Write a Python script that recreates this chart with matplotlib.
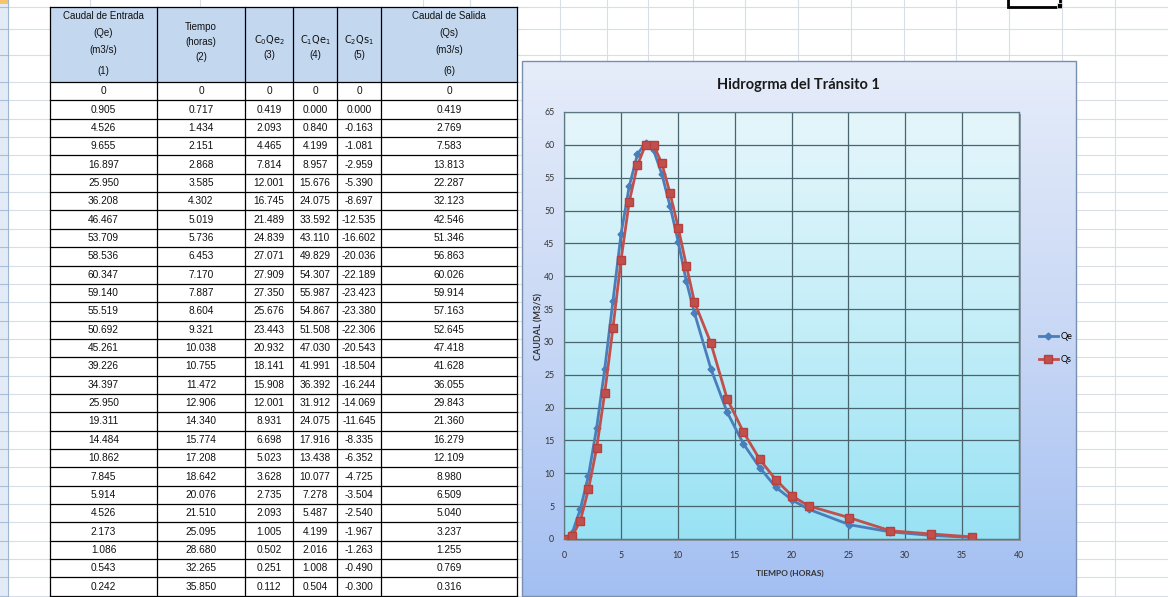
import numpy as np
import matplotlib.pyplot as plt
from matplotlib.colors import LinearSegmentedColormap
from matplotlib.patches import Rectangle

# Tabla del tránsito, columnas (1) a (6)
caudal_entrada = [0, 0.905, 4.526, 9.655, 16.897, 25.950, 36.208, 46.467, 53.709, 58.536,
                  60.347, 59.140, 55.519, 50.692, 45.261, 39.226, 34.397, 25.950, 19.311,
                  14.484, 10.862, 7.845, 5.914, 4.526, 2.173, 1.086, 0.543, 0.242]
tiempo = [0, 0.717, 1.434, 2.151, 2.868, 3.585, 4.302, 5.019, 5.736, 6.453,
          7.170, 7.887, 8.604, 9.321, 10.038, 10.755, 11.472, 12.906, 14.340,
          15.774, 17.208, 18.642, 20.076, 21.510, 25.095, 28.680, 32.265, 35.850]
c0_qe2 = [0, 0.419, 2.093, 4.465, 7.814, 12.001, 16.745, 21.489, 24.839, 27.071,
          27.909, 27.350, 25.676, 23.443, 20.932, 18.141, 15.908, 12.001, 8.931,
          6.698, 5.023, 3.628, 2.735, 2.093, 1.005, 0.502, 0.251, 0.112]
c1_qe1 = [0, 0.000, 0.840, 4.199, 8.957, 15.676, 24.075, 33.592, 43.110, 49.829,
          54.307, 55.987, 54.867, 51.508, 47.030, 41.991, 36.392, 31.912, 24.075,
          17.916, 13.438, 10.077, 7.278, 5.487, 4.199, 2.016, 1.008, 0.504]
c2_qs1 = [0, 0.000, -0.163, -1.081, -2.959, -5.390, -8.697, -12.535, -16.602, -20.036,
          -22.189, -23.423, -23.380, -22.306, -20.543, -18.504, -16.244, -14.069, -11.645,
          -8.335, -6.352, -4.725, -3.504, -2.540, -1.967, -1.263, -0.490, -0.300]
caudal_salida = [0, 0.419, 2.769, 7.583, 13.813, 22.287, 32.123, 42.546, 51.346, 56.863,
                 60.026, 59.914, 57.163, 52.645, 47.418, 41.628, 36.055, 29.843, 21.360,
                 16.279, 12.109, 8.980, 6.509, 5.040, 3.237, 1.255, 0.769, 0.316]

header_lines = [
    ["Caudal de Entrada", "(Qe)", "(m3/s)", "(1)"],
    ["Tiempo", "(horas)", "(2)"],
    [r"$\mathrm{C_0Qe_2}$", "(3)"],
    [r"$\mathrm{C_1Qe_1}$", "(4)"],
    [r"$\mathrm{C_2Qs_1}$", "(5)"],
    ["Caudal de Salida", "(Qs)", "(m3/s)", "(6)"],
]
header_y = [[16, 33, 50, 71], [27, 42, 57], [40, 55], [40, 55], [40, 55], [16, 33, 50, 71]]

NARROW = ['Liberation Sans Narrow', 'Liberation Sans', 'DejaVu Sans']
CHART = ['Lato', 'DejaVu Sans']
plt.rcParams['font.family'] = NARROW
plt.rcParams['mathtext.fontset'] = 'custom'
plt.rcParams['mathtext.rm'] = 'Liberation Sans Narrow'
plt.rcParams['mathtext.it'] = 'Liberation Sans Narrow'

W, H = 1168, 597
fig = plt.figure(figsize=(W / 100, H / 100), dpi=100)
fig.patch.set_facecolor('white')
bg = fig.add_axes([0, 0, 1, 1])
bg.set_xlim(0, W)
bg.set_ylim(H, 0)
bg.axis('off')

# cuadrícula de la hoja
grid_c = '#d8dde6'
row_top, row_h = 82, 18.35
row_edges = [row_top + row_h * k for k in range(29)]
sheet_rows = [7, 28.6, 55.3] + row_edges
for y in sheet_rows:
    bg.plot([8, 50], [y, y], color=grid_c, lw=0.8, zorder=1)
    bg.plot([517, 522], [y, y], color=grid_c, lw=0.8, zorder=1)
    bg.plot([1076, W], [y, y], color=grid_c, lw=0.8, zorder=1)
for y in [7, 28.6, 55.3]:
    bg.plot([517, W], [y, y], color=grid_c, lw=0.8, zorder=1)
for x in [560, 607, 648, 693, 745, 798, 851, 904, 956, 1009, 1062]:
    bg.plot([x, x], [0, 61], color=grid_c, lw=0.8, zorder=1)
bg.plot([1115, 1115], [0, H], color=grid_c, lw=0.8, zorder=1)
for x in [90, 200, 423, 470]:
    bg.plot([x, x], [0, 7], color=grid_c, lw=0.8, zorder=1)

# encabezado de filas (borde izquierdo)
bg.add_patch(Rectangle((0, 0), 8, H, fc='#e3ebf6', ec='none', zorder=2))
bg.add_patch(Rectangle((0, 0), 8, 4, fc='#f7c46c', ec='none', zorder=3))
for y in sheet_rows:
    bg.plot([0, 8], [y, y], color='#a9bfd8', lw=0.8, zorder=3)
bg.plot([8, 8], [0, H], color='#9fb6d0', lw=0.8, zorder=3)

# tabla
col_edges = [50, 157, 245, 293, 337, 381, 517]
bg.add_patch(Rectangle((50, 7), 517 - 50, row_top - 7, fc='#c3d7ef', ec='none', zorder=2))
for x in col_edges:
    bg.plot([x, x], [7, row_edges[-1]], color='black', lw=0.9, zorder=4)
for y in [7] + row_edges:
    bg.plot([50, 517], [y, y], color='black', lw=0.9, zorder=4)

for c, (lines, ys) in enumerate(zip(header_lines, header_y)):
    xc = (col_edges[c] + col_edges[c + 1]) / 2
    for txt, y in zip(lines, ys):
        bg.text(xc, y, txt, ha='center', va='center', fontsize=7, color='#111111', zorder=5)

columns = [caudal_entrada, tiempo, c0_qe2, c1_qe1, c2_qs1, caudal_salida]
for c, vals in enumerate(columns):
    xc = (col_edges[c] + col_edges[c + 1]) / 2
    for i, v in enumerate(vals):
        yc = row_top + (i + 0.5) * row_h
        s = '0' if i == 0 else f'{v:.3f}'
        bg.text(xc, yc, s, ha='center', va='center', fontsize=7.3, color='#111111', zorder=5)

# celda seleccionada
bg.add_patch(Rectangle((1008, -4), 52, 11, fill=False, ec='black', lw=2, zorder=6))
bg.add_patch(Rectangle((1057, 3), 5, 5, fc='black', ec='white', lw=0.5, zorder=7))

# área del gráfico con degradado
grad = np.linspace(0, 1, 256).reshape(-1, 1)
chart_cmap = LinearSegmentedColormap.from_list('chart', ['#e6edfa', '#c9d8f5', '#a3bff2'])
bg.imshow(grad, extent=(522, 1076, 596, 61), cmap=chart_cmap, aspect='auto', zorder=8)
bg.add_patch(Rectangle((522, 61), 1076 - 522, 596 - 61, fill=False, ec='#7890b0', lw=1, zorder=9))

# área de trazado
px0, px1, py0, py1 = 564, 1019, 112, 539
bg.add_patch(Rectangle((px0 + 2, py0 + 2), px1 - px0, py1 - py0, fc='#8c9aa6', ec='none', zorder=9))
plot_cmap = LinearSegmentedColormap.from_list('plot', ['#e5f6fb', '#c4eef8', '#98e2f4'])
bg.imshow(grad, extent=(px0, px1, py1, py0), cmap=plot_cmap, aspect='auto', zorder=10)
bg.set_xlim(0, W)
bg.set_ylim(H, 0)

bg.text(798, 85, 'Hidrogrma del Tránsito 1', ha='center', va='center', fontsize=10.5,
        fontweight='bold', family=CHART, color='#1a1a1a', zorder=11)
bg.text(539, 326, 'CAUDAL (M3/S)', ha='center', va='center', rotation=90, fontsize=6.5,
        fontweight='bold', family=CHART, color='#333333', zorder=11)
bg.text(790, 573, 'TIEMPO (HORAS)', ha='center', va='center', fontsize=6,
        fontweight='bold', family=CHART, color='#333333', zorder=11)

ax = fig.add_axes([px0 / W, (H - py1) / H, (px1 - px0) / W, (py1 - py0) / H])
ax.set_facecolor('none')
ax.plot(tiempo, caudal_entrada, color='#4a7ebb', lw=2, marker='D', ms=3.5,
        label='Qe', zorder=3)
ax.plot(tiempo, caudal_salida, color='#c0504d', lw=2, marker='s', ms=5.5,
        mec='#b8403c', label='Qs', zorder=4)
ax.set_xlim(0, 40)
ax.set_ylim(0, 65)
ax.set_xticks(range(0, 41, 5))
ax.set_yticks(range(0, 66, 5))
ax.grid(True, color='#4a646e', lw=0.9)
ax.set_axisbelow(True)
for sp in ax.spines.values():
    sp.set_color('#5d7a84')
    sp.set_linewidth(0.9)
ax.tick_params(length=0, labelsize=6.3, colors='#333333')
ax.tick_params(axis='y', pad=7)
ax.tick_params(axis='x', pad=9)
for lab in ax.get_xticklabels() + ax.get_yticklabels():
    lab.set_family(CHART)
ax.legend(loc='center left', bbox_to_anchor=(1.035, 0.447), frameon=False,
          handlelength=2.2, handletextpad=0.2, labelspacing=1.5,
          borderaxespad=0, prop={'family': CHART, 'size': 6.5})

fig.savefig('out.png', dpi=100)
